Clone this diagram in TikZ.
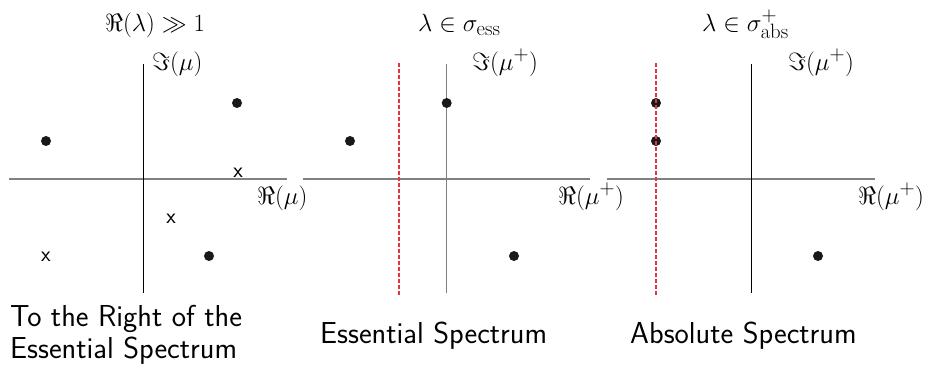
\documentclass[tikz,border=0pt]{standalone}
\definecolor{essred}{RGB}{232,50,62}
\begin{document}
\begin{tikzpicture}[x=1pt,y=-1pt,
  lbl/.style={inner sep=0pt,anchor=base west,font=\fontsize{28.5}{32}\selectfont},
  captxt/.style={inner sep=0pt,anchor=base west,font=\fontsize{30.3}{33}\selectfont\sffamily},
  crs/.style={inner sep=0pt,anchor=base,font=\fontsize{22}{24}\selectfont\sffamily},
  dot/.style={circle,fill=black!90,inner sep=0pt,minimum size=10pt},
  haxis/.style={draw=black!50,line width=1.3pt},
  vaxisk/.style={draw=black,line width=1pt},
  vaxisg/.style={draw=black!50,line width=1.3pt},
  ess/.style={draw=essred,line width=1.6pt,dash pattern=on 4pt off 2pt}]
\useasboundingbox (0,0) rectangle (936,364);
% panel 1
\coordinate (h1a) at (9,179); \coordinate (h1b) at (287,179);
\coordinate (v1a) at (143,64); \coordinate (v1b) at (143,293);
\draw[haxis] (h1a) -- (h1b);
\draw[vaxisk] (v1a) -- (v1b);
\node[lbl] (t1) at (105,31.5) {$\Re(\lambda)\gg 1$};
\node[lbl] (im1) at (152,70) {$\Im(\mu)$};
\node[lbl] (re1) at (257,204) {$\Re(\mu)$};
\node[dot] (d11) at (46,141) {};
\node[dot] (d12) at (237,103) {};
\node[dot] (d13) at (209,256) {};
\node[crs] (x11) at (238,177) {x};
\node[crs] (x12) at (171,223) {x};
\node[crs] (x13) at (46,261) {x};
\node[captxt] (c1a) at (10,326) {To the Right of the};
\node[captxt] (c1b) at (10,358) {Essential Spectrum};
% panel 2
\coordinate (h2a) at (303,179); \coordinate (h2b) at (590,179);
\coordinate (v2a) at (446.7,64); \coordinate (v2b) at (446.7,293);
\coordinate (r2a) at (399,63); \coordinate (r2b) at (399,295);
\draw[haxis] (h2a) -- (h2b);
\draw[vaxisg] (v2a) -- (v2b);
\node[lbl] (t2) at (418,31.5) {$\lambda\in\sigma_{\mathrm{ess}}$};
\node[lbl] (im2) at (472,70) {$\Im(\mu^+)$};
\node[lbl] (re2) at (558,204) {$\Re(\mu^+)$};
\node[dot] (d21) at (350,141) {};
\node[dot] (d22) at (446.7,103) {};
\node[dot] (d23) at (514,256) {};
\draw[ess] (r2a) -- (r2b);
\node[captxt] (c2) at (320,343) {Essential Spectrum};
% panel 3
\coordinate (h3a) at (607,179); \coordinate (h3b) at (875,179);
\coordinate (v3a) at (751.7,64); \coordinate (v3b) at (751.7,293);
\coordinate (r3a) at (656,63); \coordinate (r3b) at (656,295);
\draw[haxis] (h3a) -- (h3b);
\draw[vaxisk] (v3a) -- (v3b);
\node[lbl] (t3) at (702,31.5) {$\lambda\in\sigma^+_{\mathrm{abs}}$};
\node[lbl] (im3) at (788,70) {$\Im(\mu^+)$};
\node[lbl] (re3) at (858,204) {$\Re(\mu^+)$};
\node[dot] (d31) at (656,103) {};
\node[dot] (d32) at (656,141) {};
\node[dot] (d33) at (818,256) {};
\draw[ess] (r3a) -- (r3b);
\node[captxt] (c3) at (630,343) {Absolute Spectrum};
\end{tikzpicture}
\end{document}
